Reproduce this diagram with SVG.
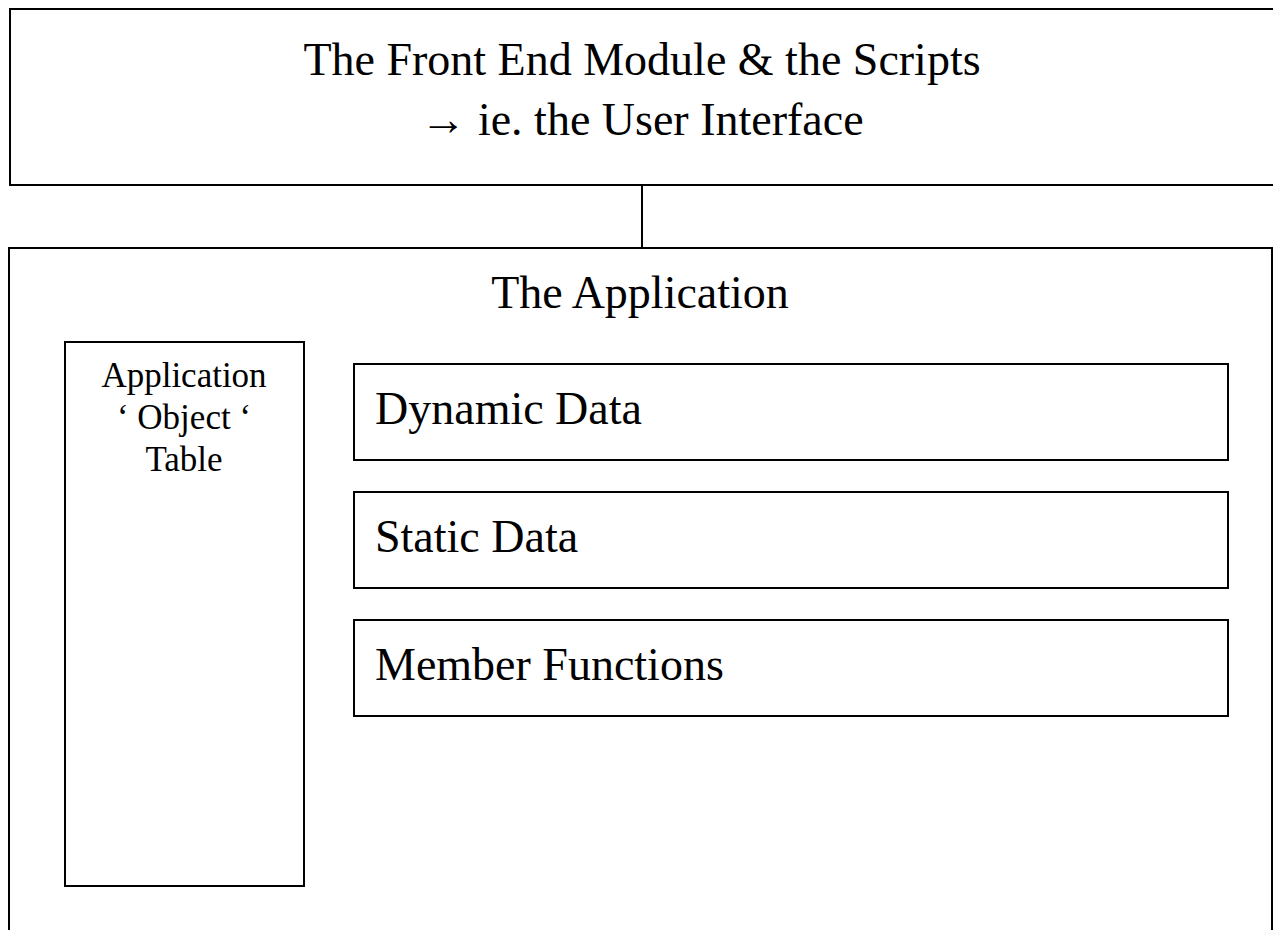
<svg xmlns="http://www.w3.org/2000/svg" width="1273" height="930" viewBox="0 0 1273 930">
<style>
.box{fill:#fff;stroke:#000;stroke-width:2}
.ln{stroke:#000;stroke-width:2;fill:none}
.t{font-family:"Liberation Serif","Times New Roman",serif;fill:#000}
.big{font-size:46px}
.small{font-size:35px}
</style>
<rect width="1273" height="930" fill="#fff"/>
<g id="connectors">
<line class="ln" x1="642" y1="185" x2="642" y2="248"/>
<line class="ln" x1="305" y1="405" x2="354" y2="405"/>
<line class="ln" x1="305" y1="530" x2="354" y2="530"/>
<line class="ln" x1="305" y1="655" x2="354" y2="655"/>
</g>
<g id="frontend">
<rect class="box" x="10" y="9" width="1280" height="176"/>
<text class="t big" x="642" y="75" text-anchor="middle">The Front End Module &amp; the Scripts</text>
<text class="t big" x="642" y="135" text-anchor="middle">→ ie. the User Interface</text>
</g>
<g id="application">
<rect class="box" x="9" y="248" width="1263" height="700"/>
<text class="t big" x="640" y="308" text-anchor="middle">The Application</text>
</g>
<g id="objecttable">
<rect class="box" x="65" y="342" width="239" height="544"/>
<text class="t small" x="184" y="387" text-anchor="middle">Application</text>
<text class="t small" x="184" y="429" text-anchor="middle">‘ Object ‘</text>
<text class="t small" x="184" y="471" text-anchor="middle">Table</text>
</g>
<g id="dynamic">
<rect class="box" x="354" y="364" width="874" height="96"/>
<text class="t big" x="375" y="424">Dynamic Data</text>
</g>
<g id="static">
<rect class="box" x="354" y="492" width="874" height="96"/>
<text class="t big" x="375" y="552">Static Data</text>
</g>
<g id="member">
<rect class="box" x="354" y="620" width="874" height="96"/>
<text class="t big" x="375" y="680">Member Functions</text>
</g>
</svg>
